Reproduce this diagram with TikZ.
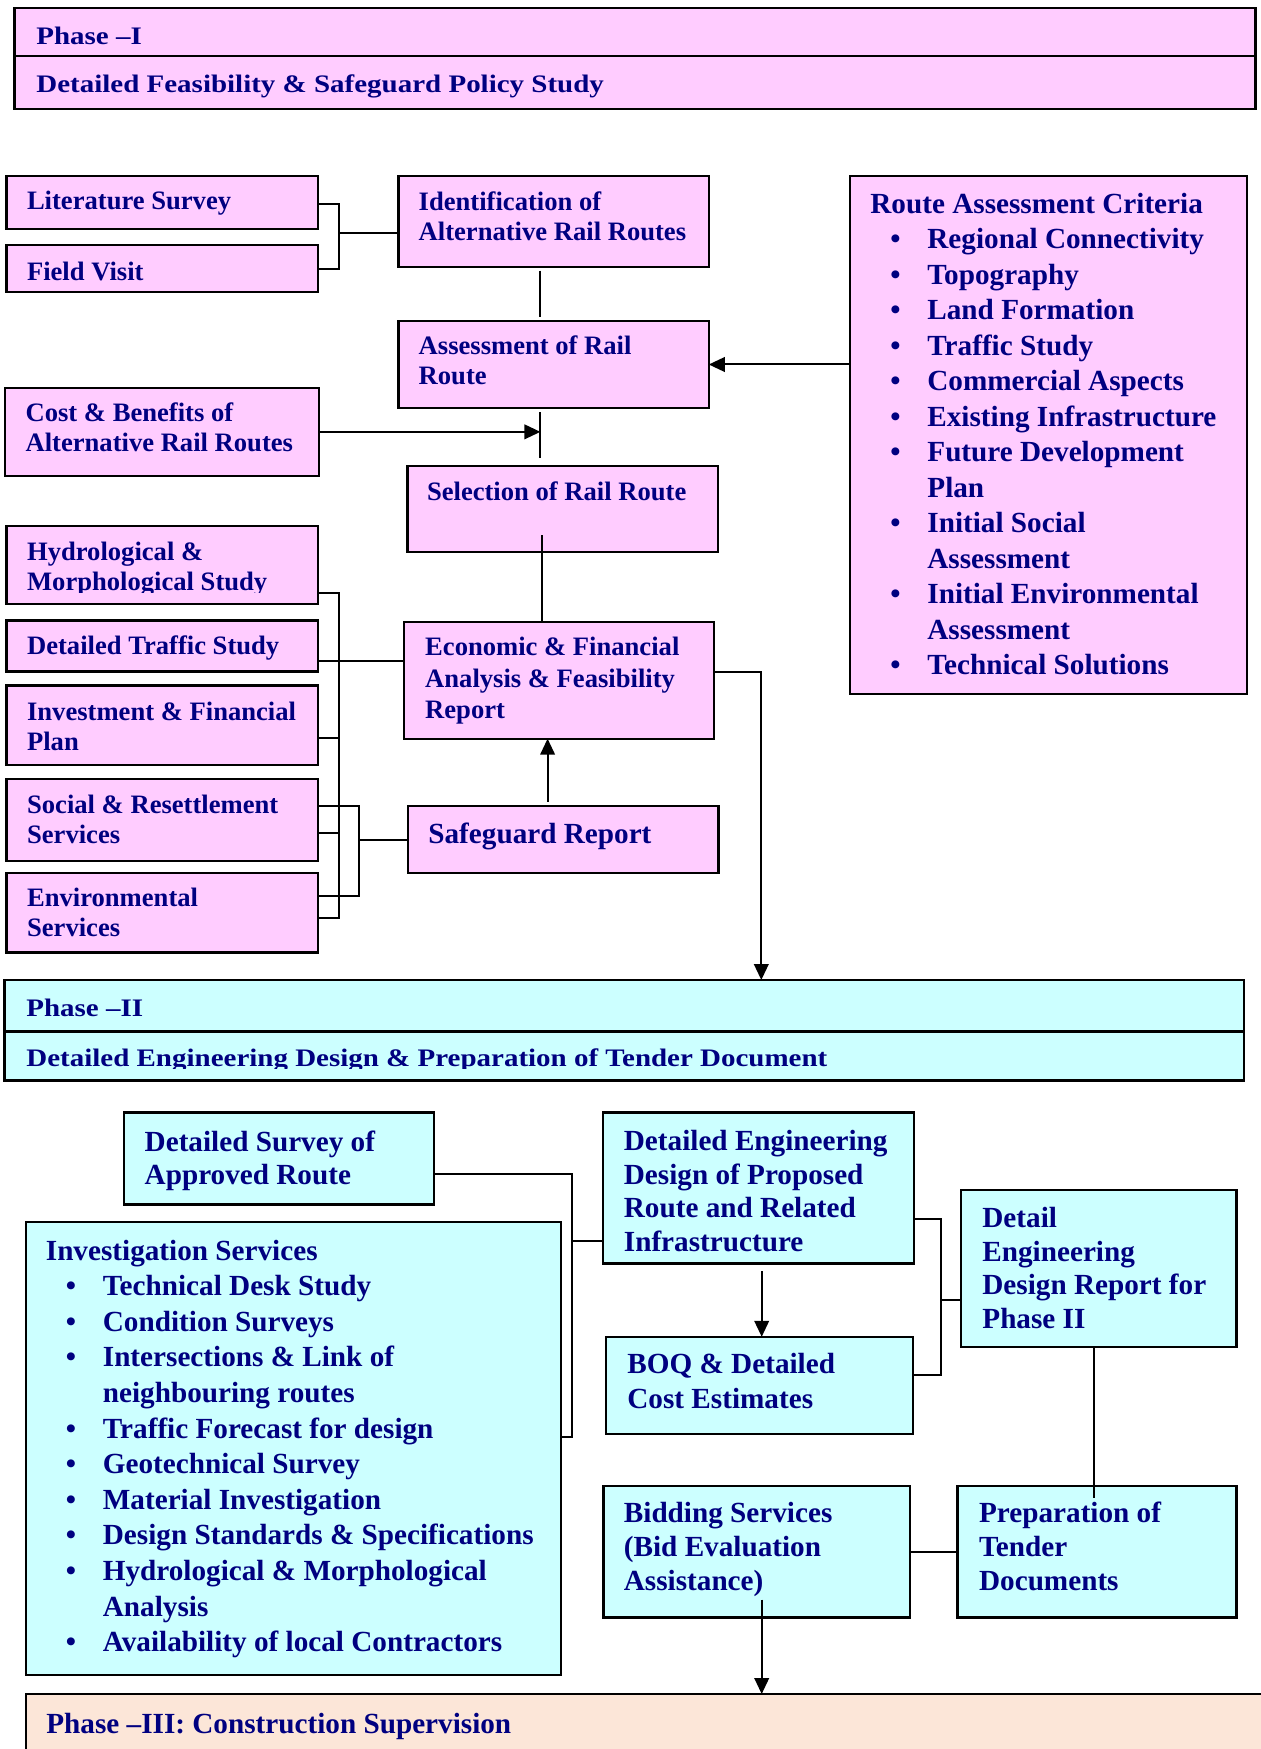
\documentclass[tikz,border=0pt]{standalone}
\usepackage{fontspec}
\setmainfont{Liberation Serif}
\newfontfamily\widefont{Liberation Serif}[FakeStretch=1.15]
\usetikzlibrary{arrows.meta,fit,calc}
\definecolor{pinkf}{RGB}{255,204,255}
\definecolor{cyanf}{RGB}{204,255,255}
\definecolor{peachf}{RGB}{252,230,216}
\definecolor{navy}{RGB}{0,0,128}
\newcommand\bul{\makebox[28.5pt][l]{\hspace*{10pt}\textbullet}}
\newcommand\ind{\hspace*{28.5pt}}
\newcommand\tl[1]{\begin{tabular}[t]{@{}l@{}}#1\end{tabular}}
\tikzset{
  bx/.style={draw=black, line width=1.1pt, inner sep=0pt, outer sep=0pt},
  pk/.style={bx, fill=pinkf},
  cy/.style={bx, fill=cyanf},
  tS/.style={text=navy, font=\fontsize{13.3}{15}\selectfont\bfseries, inner sep=0pt, anchor=base west},
  tL/.style={text=navy, font=\fontsize{14.6}{17.75}\selectfont\bfseries, inner sep=0pt, anchor=base west},
  tH/.style={text=navy, font=\widefont\fontsize{12.6}{14}\selectfont\bfseries, inner sep=0pt, anchor=base west},
  ln/.style={line width=1pt},
  ar/.style={ln, -{Triangle[length=8pt,width=7.3pt]}},
}
\begin{document}
\begin{tikzpicture}[x=0.5pt,y=-0.5pt]
\useasboundingbox (0,0) rectangle (1261,1749);
\fill[white] (0,0) rectangle (1261,1749);
\clip (0,0) rectangle (1261,1749);

% ---------- Phase I header
\node[pk, fit={(14.5,7.8)(1255.5,109.3)}] (p1) {};
\draw[line width=1.1pt] (p1.west |- 0,55.7) -- (p1.east |- 0,55.7);
\node[tH] (p1a) at (36,45) {Phase –I};
\node[tH] (p1b) at (36,92.5) {Detailed Feasibility \& Safeguard Policy Study};

% ---------- Phase I boxes
\node[pk, fit={(6.5,175.7)(317.6,229.3)}] (lit) {};
\node[tS] (litt) at (26.6,210) {Literature Survey};
\node[pk, fit={(6.5,245)(317.6,292.3)}] (fv) {};
\node[tS] (fvt) at (26.6,280.5) {Field Visit};
\node[pk, fit={(398.5,175.7)(708.8,266.7)}] (ident) {};
\node[tS] (identt) at (418.3,210.5) {\tl{Identification of\\Alternative Rail Routes}};
\node[pk, fit={(398.5,320.7)(708.8,408.3)}] (assess) {};
\node[tS] (assesst) at (418.3,355) {\tl{Assessment of Rail\\Route}};
\node[pk, fit={(4.8,387.7)(318.8,476)}] (cost) {};
\node[tS] (costt) at (25.2,421.7) {\tl{Cost \& Benefits of\\Alternative Rail Routes}};
\node[pk, fit={(407.5,466)(718,552.3)}] (sel) {};
\node[tS] (selt) at (426.6,500.5) {Selection of Rail Route};

\node[pk, fit={(6.5,526)(317.6,604)}] (hydro) {};
\begin{scope}
\clip (hydro.north west) rectangle (hydro.east |- 0,592);
\node[tS] (hydrot) at (26.7,560) {\tl{Hydrological \&\\Morphological Study}};
\end{scope}
\node[pk, fit={(6.5,620.5)(317.6,671.5)}] (traffic) {};
\node[tS] (traffict) at (26.7,654) {Detailed Traffic Study};
\node[pk, fit={(6.5,685.5)(317.6,765)}] (invest) {};
\node[tS] (investt) at (26.7,720) {\tl{Investment \& Financial\\Plan}};
\node[pk, fit={(6.5,779)(317.6,861)}] (social) {};
\node[tS] (socialt) at (26.7,813.3) {\tl{Social \& Resettlement\\Services}};
\node[pk, fit={(6.5,873)(317.6,952.5)}] (env) {};
\node[tS] (envt) at (26.7,906) {\tl{Environmental\\Services}};

\node[pk, fit={(403.6,621.7)(714.3,738.7)}] (econ) {};
\node[tS, font=\fontsize{13.3}{15.8}\selectfont\bfseries] (econt) at (424.8,655.7) {\tl{Economic \& Financial\\Analysis \& Feasibility\\Report}};
\node[pk, fit={(407.8,806)(718.4,873)}] (safe) {};
\node[tL] (safet) at (428,843.3) {Safeguard Report};

\node[pk, fit={(849.6,175.7)(1246.8,694)}] (route) {};
\node[tL] (routet) at (870,213.4) {\tl{Route Assessment Criteria\\
\bul Regional Connectivity\\
\bul Topography\\
\bul Land Formation\\
\bul Traffic Study\\
\bul Commercial Aspects\\
\bul Existing Infrastructure\\
\bul Future Development\\
\ind Plan\\
\bul Initial Social\\
\ind Assessment\\
\bul Initial Environmental\\
\ind Assessment\\
\bul Technical Solutions}};

% ---------- Phase I connectors
\coordinate (b1) at (338.5,0);
\draw[ln] (lit.east |- 0,204) -- (b1 |- 0,204) -- (b1 |- 0,269.3) -- (fv.east |- 0,269.3);
\draw[ln] (b1 |- 0,232.7) -- (ident.west |- 0,232.7);
\coordinate (sp) at (540.4,0);
\draw[ln] ([yshift=-2pt]sp |- ident.south) -- ([yshift=2pt]sp |- assess.north);
\draw[ln] ([yshift=-2pt]sp |- assess.south) -- ([yshift=4pt]sp |- sel.north);
\draw[ar] (cost.east) -- (sp |- cost.east);
\coordinate (sp2) at (541.7,535);
\draw[ln] (sp2) -- (sp2 |- econ.north);
\draw[ar] (route.west |- assess.east) -- (assess.east);

\coordinate (b2) at (338.8,0);
\draw[ln] (hydro.east |- 0,592.7) -- (b2 |- 0,592.7) -- (b2 |- 0,917.7) -- (env.east |- 0,917.7);
\draw[ln] (traffic.east |- 0,661) -- (b2 |- 0,661);
\draw[ln] (invest.east |- 0,738) -- (b2 |- 0,738);
\draw[ln] (social.east |- 0,833) -- (b2 |- 0,833);
\draw[ln] (b2 |- 0,661) -- (econ.west |- 0,661);
\coordinate (b3) at (359.2,0);
\draw[ln] (social.east |- 0,805.7) -- (b3 |- 0,805.7) -- (b3 |- 0,896) -- (env.east |- 0,896);
\draw[ln] (b3 |- safe.west) -- (safe.west);
\coordinate (sa) at (547.6,801.7);
\draw[ar] (sa) -- (sa |- econ.south);

% ---------- Phase II header
\node[cy, fit={(4.5,980)(1244.3,1080.4)}] (p2) {};
\draw[line width=1.1pt] (p2.west |- 0,1031.4) -- (p2.east |- 0,1031.4);
\node[tH] (p2a) at (26,1016.7) {Phase –II};
\begin{scope}
\clip (p2.west |- 0,1031.4) rectangle (p2.east |- 0,1068.5);
\node[tH] (p2b) at (26,1066.7) {Detailed Engineering Design \& Preparation of Tender Document};
\end{scope}

\coordinate (ep) at (761.3,672.3);
\draw[ar] (econ.east |- ep) -- (ep) -- (ep |- p2.north);

% ---------- Phase II boxes
\node[cy, fit={(123.7,1112.5)(434.3,1204.5)}] (dsur) {};
\node[tL, font=\fontsize{14.6}{16.65}\selectfont\bfseries] (dsurt) at (144.3,1151.5) {\tl{Detailed Survey of\\Approved Route}};
\node[cy, fit={(25.6,1222)(560.8,1674.7)}] (inv) {};
\node[tL, font=\fontsize{14.6}{17.8}\selectfont\bfseries] (invt) at (45.5,1260) {\tl{Investigation Services\\
\bul Technical Desk Study\\
\bul Condition Surveys\\
\bul Intersections \& Link of\\
\ind neighbouring routes\\
\bul Traffic Forecast for design\\
\bul Geotechnical Survey\\
\bul Material Investigation\\
\bul Design Standards \& Specifications\\
\bul Hydrological \& Morphological\\
\ind Analysis\\
\bul Availability of local Contractors}};
\node[cy, fit={(603.2,1112.5)(914.3,1263.5)}] (ded) {};
\node[tL, font=\fontsize{14.6}{16.8}\selectfont\bfseries] (dedt) at (623.5,1150.5) {\tl{Detailed Engineering\\Design of Proposed\\Route and Related\\Infrastructure}};
\node[cy, fit={(606,1336.8)(912.6,1433.6)}] (boq) {};
\node[tL, font=\fontsize{14.6}{17.6}\selectfont\bfseries] (boqt) at (627,1373) {\tl{BOQ \& Detailed\\Cost Estimates}};
\node[cy, fit={(961,1190)(1236.5,1347)}] (dedr) {};
\node[tL, font=\fontsize{14.6}{16.85}\selectfont\bfseries] (dedrt) at (982,1227.5) {\tl{Detail\\Engineering\\Design Report for\\Phase II}};
\node[cy, fit={(603.5,1485.8)(909.6,1617.4)}] (bid) {};
\node[tL, font=\fontsize{14.6}{17.1}\selectfont\bfseries] (bidt) at (623.5,1522) {\tl{Bidding Services\\(Bid Evaluation\\Assistance)}};
\node[cy, fit={(957.4,1485.8)(1236.5,1617.4)}] (prep) {};
\node[tL, font=\fontsize{14.6}{17.1}\selectfont\bfseries] (prept) at (978.7,1522) {\tl{Preparation of\\Tender\\Documents}};

% ---------- Phase III
\node[bx, fill=peachf, fit={(25.6,1694)(1280,1770)}] (p3) {};
\node[tL] (p3t) at (46,1733) {Phase –III: Construction Supervision};

% ---------- Phase II connectors
\coordinate (b4) at (572,0);
\draw[ln] (dsur.east |- 0,1173.6) -- (b4 |- 0,1173.6) -- (b4 |- 0,1436.8) -- (inv.east |- 0,1436.8);
\draw[ln] (b4 |- 0,1240.5) -- (ded.west |- 0,1240.5);
\coordinate (c1) at (761.7,1271);
\draw[ar] (c1) -- (c1 |- boq.north);
\coordinate (b5) at (941.3,0);
\draw[ln] (ded.east |- 0,1218.8) -- (b5 |- 0,1218.8) -- (b5 |- 0,1375) -- (boq.east |- 0,1375);
\draw[ln] (b5 |- 0,1300) -- (dedr.west |- 0,1300);
\coordinate (c2) at (1094,1498);
\draw[ln] (c2 |- dedr.south) -- (c2);
\draw[ln] (bid.east) -- (prep.west);
\coordinate (c3) at (761.7,1599.6);
\draw[ar] (c3) -- (c3 |- p3.north);
\end{tikzpicture}
\end{document}
